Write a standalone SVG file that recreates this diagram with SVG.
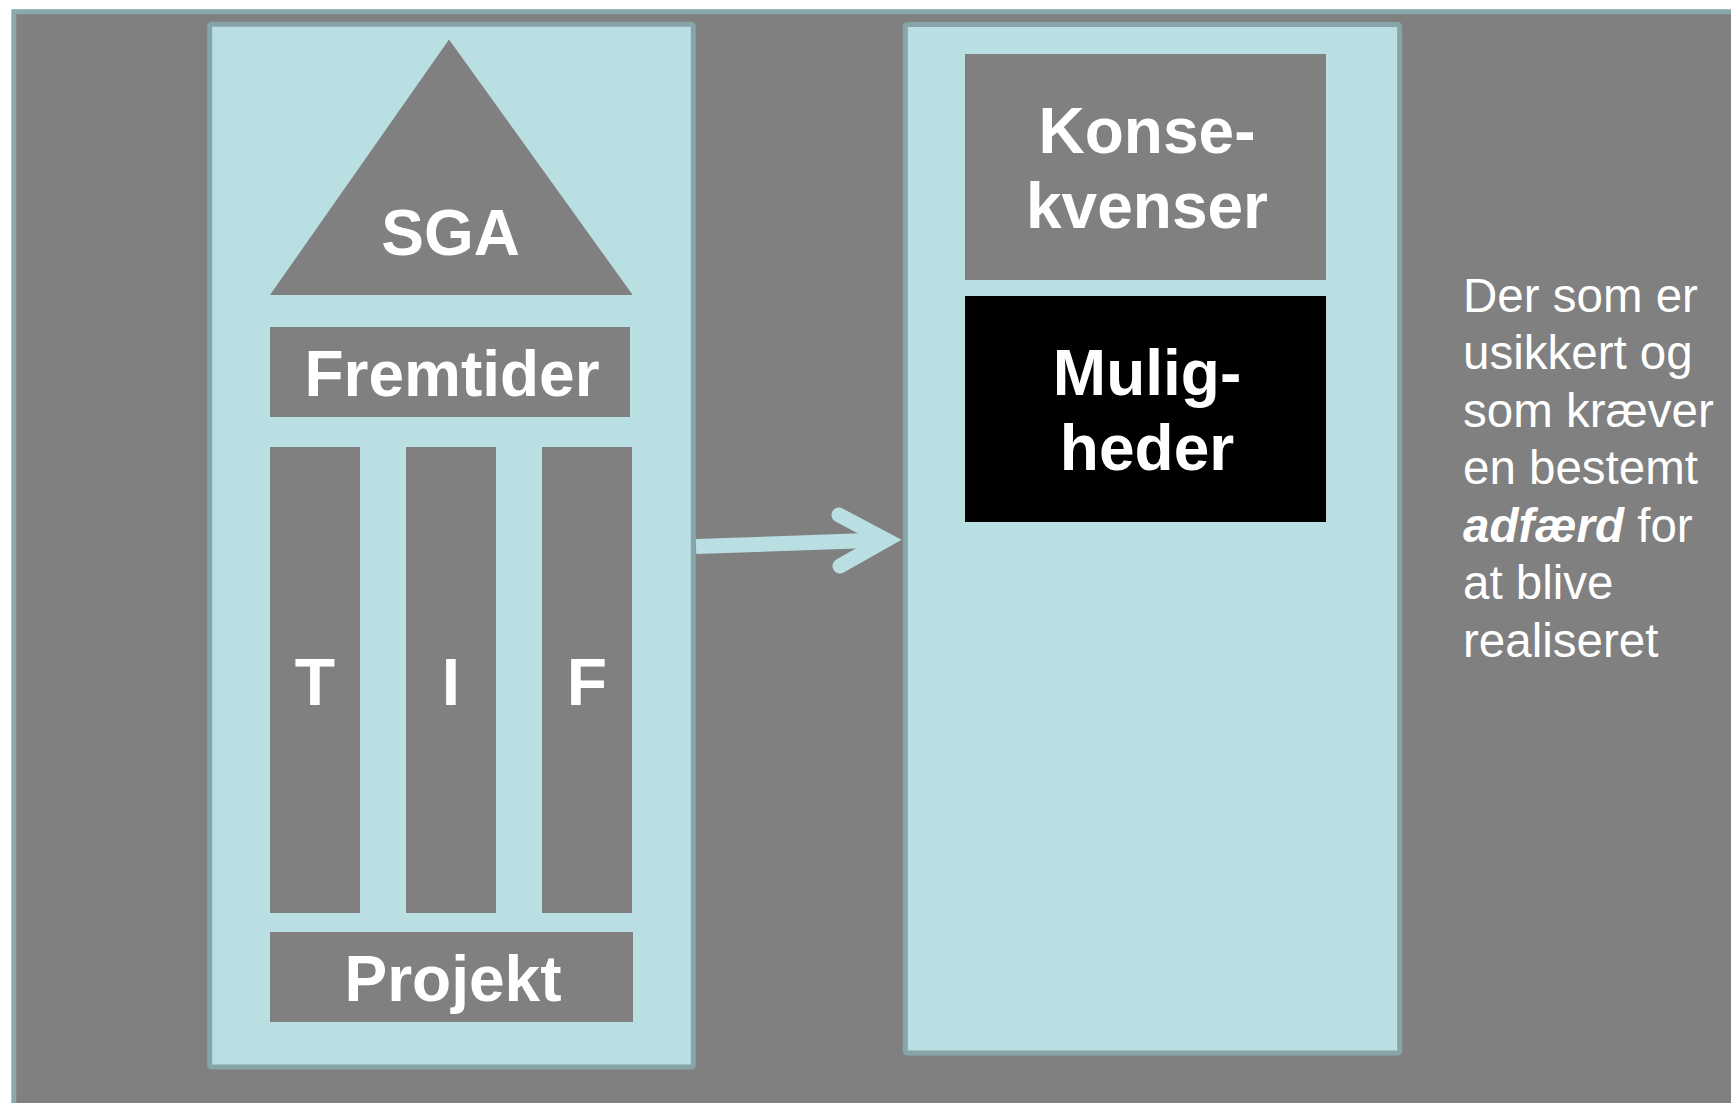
<svg xmlns="http://www.w3.org/2000/svg" width="1731" height="1103" viewBox="0 0 1731 1103">
<style>
.panel{fill:#badfe2;stroke:#86a5a8;stroke-width:5}
.box{fill:#808080}
.lbl{font-family:"Liberation Sans",Arial,sans-serif;font-weight:bold;font-size:64px;fill:#ffffff;text-anchor:middle}
.body{font-family:"Liberation Sans",Arial,sans-serif;font-size:47.5px;fill:#ffffff}
.conn{fill:none;stroke:#badfe2;stroke-width:15}
</style>
<rect x="0" y="0" width="1731" height="1103" fill="#ffffff"/>
<rect x="13.8" y="11.7" width="1730" height="1100" fill="#808080" stroke="#8aa9ab" stroke-width="5"/>
<g id="left-panel">
<rect class="panel" x="209.7" y="24.3" width="483.6" height="1042.7" rx="2"/>
</g>
<g id="sga">
<polygon class="box" points="449,39.5 632.7,295 270,295"/>
<text class="lbl" x="450.6" y="255">SGA</text>
</g>
<g id="fremtider">
<rect class="box" x="270" y="327" width="360" height="90"/>
<text class="lbl" x="452" y="395.7">Fremtider</text>
</g>
<g id="pillar-t">
<rect class="box" x="270" y="447" width="90" height="466"/>
<text class="lbl" style="font-size:66px" x="315" y="705">T</text>
</g>
<g id="pillar-i">
<rect class="box" x="406" y="447" width="90" height="466"/>
<text class="lbl" style="font-size:66px" x="451" y="705">I</text>
</g>
<g id="pillar-f">
<rect class="box" x="542" y="447" width="90" height="466"/>
<text class="lbl" style="font-size:66px" x="587" y="705">F</text>
</g>
<g id="projekt">
<rect class="box" x="270" y="932" width="363" height="90"/>
<text class="lbl" x="453" y="1000.7">Projekt</text>
</g>
<g id="right-panel">
<rect class="panel" x="905.3" y="24.5" width="494.3" height="1028.5" rx="2"/>
</g>
<g id="konsekvenser">
<rect class="box" x="965" y="54" width="361" height="226"/>
<text class="lbl" x="1147" y="153.3">Konse-</text>
<text class="lbl" x="1147" y="228.3">kvenser</text>
</g>
<g id="muligheder">
<rect x="965" y="296" width="361" height="226" fill="#000000"/>
<text class="lbl" x="1147" y="395">Mulig-</text>
<text class="lbl" x="1147" y="470">heder</text>
</g>
<g id="note">
<text class="body" x="1463" y="311.7">Der som er</text>
<text class="body" x="1463" y="369.2">usikkert og</text>
<text class="body" x="1463" y="426.7">som kræver</text>
<text class="body" x="1463" y="484.2">en bestemt</text>
<text class="body" x="1463" y="541.7"><tspan font-weight="bold" font-style="italic">adfærd</tspan> for</text>
<text class="body" x="1463" y="599.2">at blive</text>
<text class="body" x="1463" y="656.7">realiseret</text>
</g>
<g id="connectors">
<line class="conn" x1="696" y1="546.5" x2="884" y2="540" style="stroke-linecap:butt"/>
<polyline class="conn" points="839,515 886,540 840,566" style="stroke-linecap:round;stroke-linejoin:miter"/>
</g>
</svg>
